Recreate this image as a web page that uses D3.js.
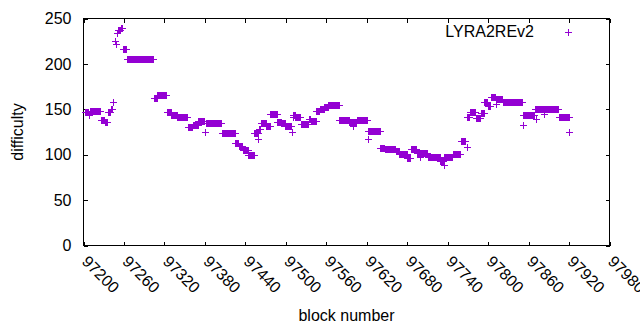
<!DOCTYPE html>
<html lang="en">
<head>
  <meta charset="UTF-8" />
  <title>LYRA2REv2 difficulty by block</title>
  <script src="https://d3js.org/d3.v7.min.js"></script>
  <style>
    body {
      margin: 0;
      background: #ffffff;
    }

    svg {
      display: block;
      font: 16px 'Liberation Sans', Arial, sans-serif;
    }

    .frame {
      fill: none;
      stroke: #000;
      stroke-width: 1px;
      shape-rendering: crispEdges;
    }

    .tick line {
      stroke: #000;
      shape-rendering: crispEdges;
    }

    .tick text, .label, .legend text {
      fill: #000;
    }

    .pt {
      fill: none;
      stroke: #9400d3;
      stroke-width: 1px;
      shape-rendering: crispEdges;
    }
  </style>
</head>
<body>
  <svg id="chart" width="640" height="330"></svg>

  <script>
    // difficulty stays flat over stretches of blocks, so the points are read off as runs:
    // first block, last block, difficulty
    const runStart = [
      97203, 97209, 97210, 97226, 97232, 97237, 97241, 97245, 97247, 97249,
      97251, 97252, 97256, 97260, 97265, 97305, 97310, 97324, 97331, 97340,
      97355, 97363, 97371, 97381, 97383, 97406, 97426, 97431, 97437, 97445,
      97454, 97460, 97461, 97464, 97472, 97478, 97488, 97494, 97500, 97510,
      97511, 97512, 97515, 97523, 97535, 97538, 97546, 97551, 97558, 97564,
      97580, 97595, 97601, 97602, 97606, 97622, 97623, 97641, 97648, 97664,
      97669, 97681, 97686, 97695, 97700, 97701, 97711, 97730, 97735, 97736,
      97748, 97760, 97769, 97770, 97774, 97783, 97790, 97795, 97800, 97805,
      97812, 97813, 97823, 97852, 97853, 97870, 97872, 97884, 97885, 97906,
      97921
    ];
    const runEnd = [
      97208, 97209, 97225, 97231, 97236, 97240, 97243, 97245, 97247, 97249,
      97251, 97255, 97258, 97264, 97304, 97309, 97323, 97330, 97339, 97354,
      97362, 97370, 97380, 97381, 97405, 97425, 97430, 97436, 97444, 97453,
      97459, 97460, 97463, 97471, 97477, 97487, 97493, 97499, 97509, 97510,
      97511, 97514, 97522, 97534, 97537, 97545, 97550, 97557, 97563, 97579,
      97594, 97600, 97601, 97605, 97621, 97622, 97640, 97647, 97663, 97668,
      97680, 97685, 97694, 97699, 97700, 97710, 97729, 97734, 97735, 97747,
      97759, 97767, 97769, 97773, 97782, 97789, 97794, 97799, 97804, 97811,
      97812, 97822, 97851, 97852, 97869, 97883, 97872, 97884, 97905, 97920,
      97921
    ];
    const runDifficulty = [
      146, 143, 148, 138, 136, 147, 150, 157, 225, 221,
      233, 237, 239, 216, 205, 162, 165, 147, 143, 141,
      130, 132, 137, 124, 134, 123, 112, 109, 105, 99,
      123, 117, 128, 134, 131, 144, 136, 134, 131, 125,
      141, 143, 141, 133, 139, 137, 148, 150, 152, 154,
      138, 136, 131, 136, 138, 117, 126, 107, 106, 103,
      100, 96, 106, 101, 97, 101, 97, 93, 88, 97,
      100, 115, 108, 141, 146, 140, 145, 157, 153, 163,
      155, 161, 157, 132, 143, 150, 139, 144, 150, 141,
      125
    ];

    const xTickValues = [97200, 97260, 97320, 97380, 97440, 97500, 97560,
                         97620, 97680, 97740, 97800, 97860, 97920, 97980];
    const yTickValues = [0, 50, 100, 150, 200, 250];
    const seriesName = "LYRA2REv2";

    const svg = d3.select("#chart");
    const plotLeft = 83.5, plotRight = 609.5, plotTop = 18.5, plotBottom = 245.5;

    const x = d3.scaleLinear().domain([97200, 97980]).range([plotLeft, plotRight]);
    const y = d3.scaleLinear().domain([0, 250]).range([plotBottom, plotTop]);

    // one point per block inside each run
    const points = [];
    runStart.forEach((s, i) => {
      for (let b = s; b <= runEnd[i]; b++) {
        points.push({ block: b, difficulty: runDifficulty[i] });
      }
    });

    const plus = (cx, cy) => `M${cx - 3.5},${cy}h7M${cx},${cy - 3.5}v7`;

    // axes, ticks pointing inward on all four sides
    const bottomAxis = svg.append("g")
      .attr("transform", `translate(0,${plotBottom})`)
      .call(d3.axisBottom(x).tickValues(xTickValues).tickFormat(d3.format("d"))
        .tickSizeInner(-4).tickSizeOuter(0));
    bottomAxis.selectAll(".tick text")
      .attr("x", 0)
      .attr("y", 0)
      .attr("dy", null)
      .attr("transform", "translate(-3,17) rotate(45)")
      .style("text-anchor", "start");

    svg.append("g")
      .attr("transform", `translate(0,${plotTop})`)
      .call(d3.axisTop(x).tickValues(xTickValues).tickSizeInner(-4).tickSizeOuter(0).tickFormat(""));

    svg.append("g")
      .attr("transform", `translate(${plotLeft},0)`)
      .call(d3.axisLeft(y).tickValues(yTickValues).tickSizeInner(-4).tickSizeOuter(0).tickPadding(12));

    svg.append("g")
      .attr("transform", `translate(${plotRight},0)`)
      .call(d3.axisRight(y).tickValues(yTickValues).tickSizeInner(-4).tickSizeOuter(0).tickFormat(""));

    svg.selectAll(".domain").remove();
    svg.selectAll("g").attr("font-size", null).attr("font-family", null);

    svg.append("rect")
      .attr("class", "frame")
      .attr("x", plotLeft)
      .attr("y", plotTop)
      .attr("width", plotRight - plotLeft)
      .attr("height", plotBottom - plotTop);

    // data points
    svg.append("g")
      .selectAll("path")
      .data(points)
      .join("path")
        .attr("class", "pt")
        .attr("d", d => plus(x(d.block), y(d.difficulty)));

    // legend
    const legend = svg.append("g").attr("class", "legend");
    legend.append("text")
      .attr("x", 534)
      .attr("y", 37)
      .attr("text-anchor", "end")
      .text(seriesName);
    legend.append("path")
      .attr("class", "pt")
      .attr("d", plus(568, 32));

    // axis titles
    svg.append("text")
      .attr("class", "label")
      .attr("x", (plotLeft + plotRight) / 2)
      .attr("y", 321)
      .attr("text-anchor", "middle")
      .text("block number");

    svg.append("text")
      .attr("class", "label")
      .attr("transform", `translate(23,${(plotTop + plotBottom) / 2}) rotate(-90)`)
      .attr("text-anchor", "middle")
      .text("difficulty");
  </script>
</body>
</html>
